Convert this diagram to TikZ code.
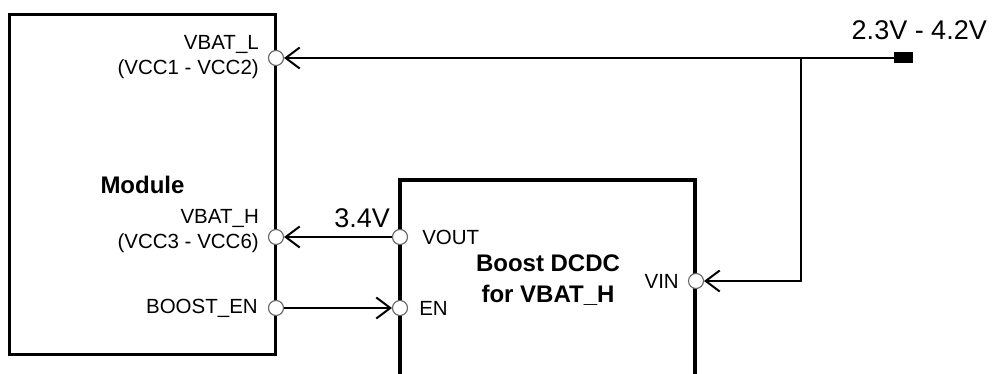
\documentclass[tikz,border=0pt]{standalone}
\usepackage{fontspec}
\setmainfont{Liberation Sans}
\usetikzlibrary{positioning,arrows.meta}
\begin{document}
\begin{tikzpicture}[
    x=1pt, y=-1pt,
    box/.style={draw, line width=3.8pt, inner sep=0pt},
    pin/.style={circle, draw=black!60, fill=white, line width=1.1pt,
                minimum size=15pt, inner sep=0pt},
    pinlabel/.style={font=\fontsize{20.5}{25}\selectfont, inner sep=0pt, align=right},
    title/.style={font=\fontsize{24}{31}\selectfont\bfseries, align=center},
    volt/.style={font=\fontsize{27}{30}\selectfont, inner sep=0pt},
    wire/.style={line width=2pt},
    >={Straight Barb[length=14pt,width=21pt]}
]
\useasboundingbox[fill=white] (0,0) rectangle (993,374);
\clip (0,0) rectangle (993,374);

% --- MODULE ---
\node[box, title, minimum width=266pt, minimum height=340pt] (module) at (142.5,184.5) {Module};

% --- BOOST ---
\node[box, minimum width=295pt, minimum height=230pt] (boost) at (547.5,295) {};
\node[title] (boostlbl) at (548,280) {Boost DCDC\\for VBAT\_H};

% pins
\node[pin] (vbatl) at (276,58) {};
\node[pin] (vbath) at (276,237) {};
\node[pin] (boosten) at (276,308) {};
\node[pin] (vout) at (400,237) {};
\node[pin] (en) at (400,308) {};
\node[pin] (vin) at (696,281) {};

\node[pinlabel, anchor=east] at (259,57) {VBAT\_L\\(VCC1 - VCC2)};
\node[pinlabel, anchor=east] at (259,231) {VBAT\_H\\(VCC3 - VCC6)};
\node[pinlabel, left=10pt of boosten] {BOOST\_EN};
\node[pinlabel, right=14pt of vout] {VOUT};
\node[pinlabel, right=11pt of en] {EN};
\node[pinlabel, left=9pt of vin] {VIN};

% supply
\node[fill, minimum width=19pt, minimum height=11pt, inner sep=0pt] (src) at (903.5,58) {};
\node[volt, anchor=base east] (vrange) at (987,40) {2.3V - 4.2V};
\coordinate (tap) at (801,58);
\draw[wire,->] (src.west) -- (vbatl);
\draw[wire,->] (tap) |- (vin);

% OUT
\node[volt, anchor=base east] (vhigh) at (390,228) {3.4V};
\draw[wire,->] (vout) -- (vbath);
\draw[wire,->] (boosten) -- (en);

\end{tikzpicture}
\end{document}
